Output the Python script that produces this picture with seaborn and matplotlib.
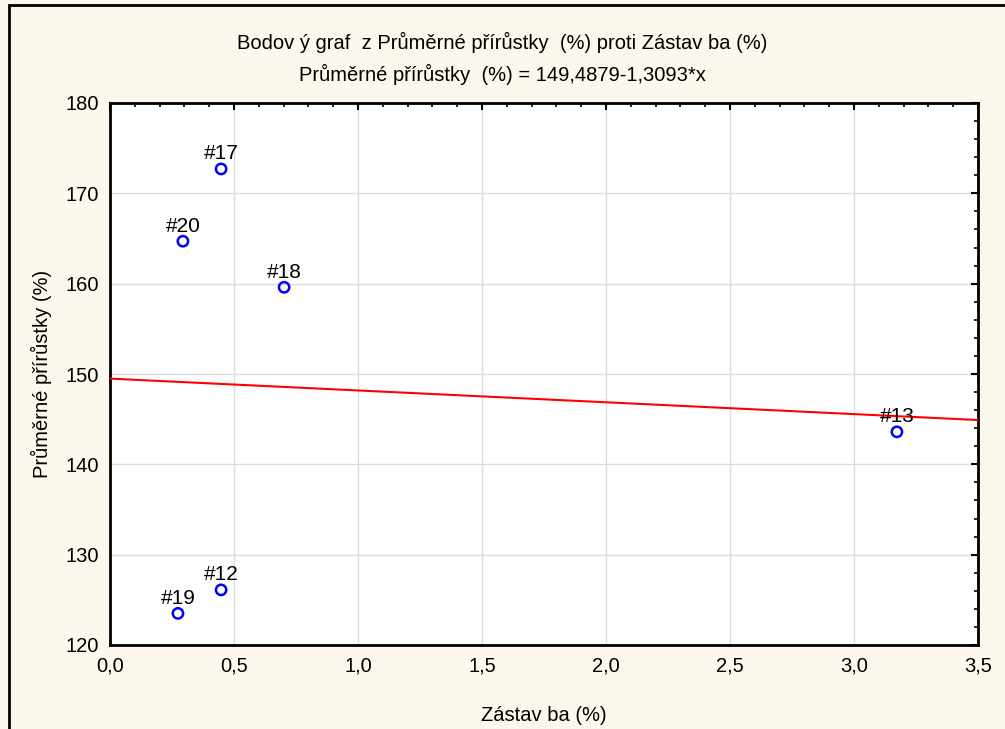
import matplotlib.pyplot as plt
import matplotlib.ticker as mticker
import numpy as np
import pandas as pd
import seaborn as sns
from matplotlib.patches import Rectangle

# Data
case_ids = ["#17", "#20", "#18", "#13", "#12", "#19"]
zastavba = [0.448, 0.294, 0.702, 3.173, 0.448, 0.274]
prirustky = [172.7, 164.7, 159.6, 143.6, 126.1, 123.5]

# Regression line given in the subtitle
intercept = 149.4879
slope = -1.3093

df = pd.DataFrame({"case": case_ids, "x": zastavba, "y": prirustky})

sns.set_theme(style="white")
plt.rcParams["font.family"] = ["Liberation Sans", "DejaVu Sans"]
plt.rcParams["text.color"] = "black"
plt.rcParams["axes.labelcolor"] = "black"

bg = "#fdf8ee"
fig = plt.figure(figsize=(10.05, 7.29), dpi=100, facecolor=bg)
ax = fig.add_axes([110 / 1005, 1 - 645 / 729, (978 - 110) / 1005, (645 - 103) / 729])
ax.set_facecolor("white")

# outer frame (left and top edge visible)
fig.patches.append(Rectangle((9 / 1005, -0.2), 1.3, 1.2 - 5 / 729, transform=fig.transFigure,
                             fill=False, edgecolor="black", linewidth=2, zorder=0))

ax.set_xlim(0, 3.5)
ax.set_ylim(120, 180)

# regression line
line_x = np.array(ax.get_xlim())
sns.lineplot(x=line_x, y=intercept + slope * line_x, ax=ax, color="red", linewidth=1.5, zorder=3)

sns.scatterplot(data=df, x="x", y="y", ax=ax, marker="o", s=55, facecolor="none",
                edgecolor="blue", linewidth=1.8, zorder=4)

for _, r in df.iterrows():
    ax.annotate(r["case"], (r["x"], r["y"]), xytext=(0, 4), textcoords="offset points",
                ha="center", va="bottom", fontsize=15, color="black", zorder=5)

ax.xaxis.set_major_locator(mticker.MultipleLocator(0.5))
ax.xaxis.set_minor_locator(mticker.MultipleLocator(0.1))
ax.yaxis.set_major_locator(mticker.MultipleLocator(10))
ax.yaxis.set_minor_locator(mticker.MultipleLocator(2))
ax.xaxis.set_major_formatter(mticker.FuncFormatter(lambda v, p: f"{v:.1f}".replace(".", ",")))
ax.yaxis.set_major_formatter(mticker.FuncFormatter(lambda v, p: f"{v:.0f}"))

ax.grid(True, which="major", color="#dcdcdc", linewidth=1)
ax.tick_params(which="both", direction="in", top=True, right=True, color="black",
               labelsize=14.5, labelcolor="black")
ax.tick_params(which="major", length=5, width=1.5, pad=8)
ax.tick_params(which="minor", length=3, width=1.2)
for s in ax.spines.values():
    s.set_color("black")
    s.set_linewidth(2)

ax.set_xlabel("Zástav ba (%)", fontsize=14.5, labelpad=22)
ax.set_ylabel("Průměrné přírůstky (%)", fontsize=14.5, labelpad=10)

fig.text(0.5, 1 - 42 / 729, "Bodov ý graf  z Průměrné přírůstky  (%) proti Zástav ba (%)",
         ha="center", va="center", fontsize=14.5)
fig.text(0.5, 1 - 74 / 729, "Průměrné přírůstky  (%) = 149,4879-1,3093*x",
         ha="center", va="center", fontsize=14.5)

fig.savefig("out.png", dpi=100, facecolor=bg)
